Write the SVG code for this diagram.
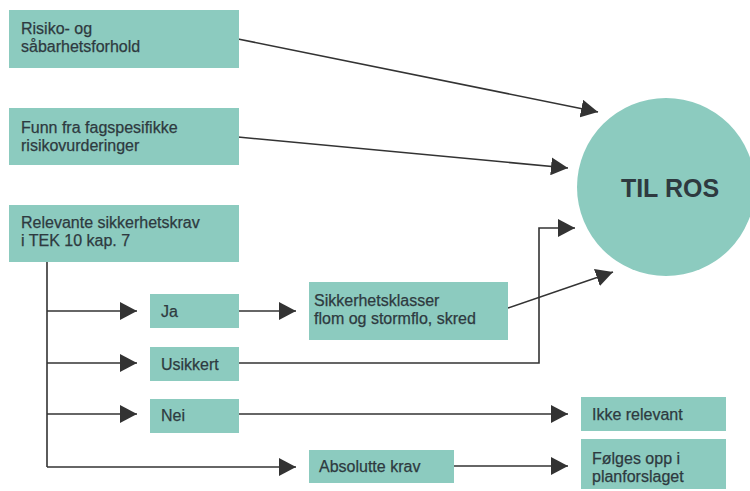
<svg xmlns="http://www.w3.org/2000/svg" width="750" height="491" viewBox="0 0 750 491">
<style>
.box{fill:#8ccbbf}
.t{font-family:"Liberation Sans",Arial,sans-serif;font-size:16px;fill:#2e3a40;stroke:#2e3a40;stroke-width:0.25}
.c{fill:none;stroke:#333;stroke-width:1.6}
</style>
<defs>
<marker id="ah" markerUnits="userSpaceOnUse" markerWidth="18" markerHeight="18" refX="17" refY="9" orient="auto">
<path d="M0,0 L17,9 L0,18 z" fill="#333"/>
</marker>
</defs>
<rect width="750" height="491" fill="#fff"/>
<g id="connectors">
<path class="c" d="M238,39 L598,112" marker-end="url(#ah)"/>
<path class="c" d="M238,137 L568,168" marker-end="url(#ah)"/>
<path class="c" d="M239,363 H539 V228 H575" marker-end="url(#ah)"/>
<path class="c" d="M508,308 L613,272" marker-end="url(#ah)"/>
<path class="c" d="M47,262 V467"/>
<path class="c" d="M47,311 H137" marker-end="url(#ah)"/>
<path class="c" d="M47,363 H137" marker-end="url(#ah)"/>
<path class="c" d="M47,414 H137" marker-end="url(#ah)"/>
<path class="c" d="M47,467 H296" marker-end="url(#ah)"/>
<path class="c" d="M239,311 H296" marker-end="url(#ah)"/>
<path class="c" d="M239,414 H568" marker-end="url(#ah)"/>
<path class="c" d="M454,466 H568" marker-end="url(#ah)"/>
</g>
<g id="n-risiko">
<rect class="box" x="9" y="10" width="230" height="58"/>
<text class="t" x="21" y="34">Risiko- og</text>
<text class="t" x="21" y="52">såbarhetsforhold</text>
</g>
<g id="n-funn">
<rect class="box" x="9" y="108" width="230" height="57"/>
<text class="t" x="21" y="133">Funn fra fagspesifikke</text>
<text class="t" x="21" y="151">risikovurderinger</text>
</g>
<g id="n-relevante">
<rect class="box" x="9" y="205" width="230" height="57"/>
<text class="t" x="21" y="228">Relevante sikkerhetskrav</text>
<text class="t" x="21" y="246">i TEK 10 kap. 7</text>
</g>
<g id="n-tilros">
<circle cx="666" cy="187" r="89" class="box"/>
<text x="670" y="197" text-anchor="middle" style="font-family:'Liberation Sans',Arial,sans-serif;font-size:25px;font-weight:bold;fill:#2e3a40">TIL ROS</text>
</g>
<g id="n-ja">
<rect class="box" x="150" y="294" width="89" height="34"/>
<text class="t" x="161" y="317">Ja</text>
</g>
<g id="n-usikkert">
<rect class="box" x="150" y="347" width="89" height="34"/>
<text class="t" x="161" y="370">Usikkert</text>
</g>
<g id="n-nei">
<rect class="box" x="150" y="399" width="89" height="34"/>
<text class="t" x="161" y="421">Nei</text>
</g>
<g id="n-sikkerhetsklasser">
<rect class="box" x="309" y="282" width="199" height="58"/>
<text class="t" x="314" y="306">Sikkerhetsklasser</text>
<text class="t" x="314" y="324">flom og stormflo, skred</text>
</g>
<g id="n-absolutte">
<rect class="box" x="309" y="450" width="145" height="33"/>
<text class="t" x="319" y="472">Absolutte krav</text>
</g>
<g id="n-ikke">
<rect class="box" x="581" y="397" width="145" height="34"/>
<text class="t" x="592" y="420">Ikke relevant</text>
</g>
<g id="n-folges">
<rect class="box" x="581" y="439" width="145" height="50"/>
<text class="t" x="592" y="464">Følges opp i</text>
<text class="t" x="592" y="482">planforslaget</text>
</g>
</svg>
